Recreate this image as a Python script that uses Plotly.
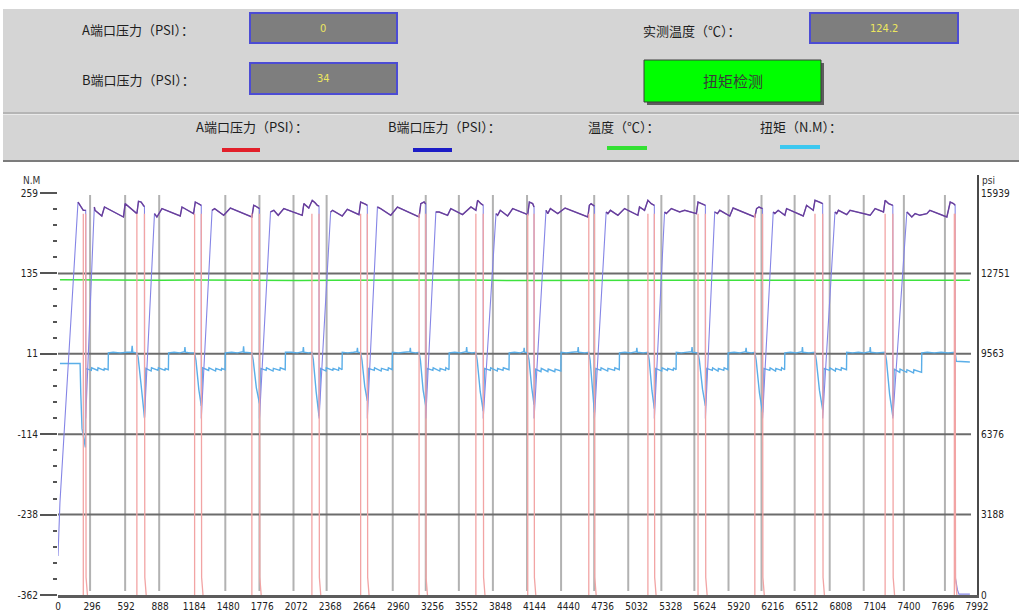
import plotly.graph_objects as go

# ---------------------------------------------------------------- data ----
x_end = 7992
x_tick_step = 296
nm_ticktext = ['-362', '-238', '-114', '11', '135', '259']
psi_ticktext = ['0', '3188', '6376', '9563', '12751', '15939']
nm_min, nm_max = -362.0, 259.0
psi_max = 15939.0

# B port pressure (psi) vertices
b_time = [0, 17, 174, 200, 220, 241, 241,
          308, 316, 322, 381, 404, 569, 584, 686, 700, 723, 743, 752, 752,
          839, 860, 904, 1063, 1078, 1179, 1194, 1223, 1246, 1246,
          1340, 1362, 1441, 1499, 1686, 1702, 1717, 1752, 1752,
          1848, 1877, 1915, 1964, 2124, 2138, 2181, 2211, 2234, 2255, 2270, 2270,
          2371, 2388, 2472, 2516, 2617, 2632, 2676, 2690, 2690,
          2778, 2806, 2894, 2952, 3140, 3155, 3184, 3198, 3198,
          3286, 3315, 3388, 3416, 3518, 3591, 3634, 3649, 3678, 3698, 3698,
          3809, 3823, 3846, 3910, 3954, 4085, 4099, 4128, 4140, 4140,
          4244, 4259, 4282, 4346, 4410, 4608, 4621, 4636, 4665, 4665,
          4767, 4782, 4804, 4869, 4927, 5043, 5057, 5101, 5130, 5159, 5186, 5186,
          5275, 5290, 5334, 5406, 5450, 5552, 5566, 5595, 5630, 5630,
          5711, 5735, 5755, 5842, 5871, 6060, 6075, 6096, 6127, 6127,
          6220, 6234, 6263, 6321, 6336, 6481, 6510, 6568, 6583, 6626, 6650, 6650,
          6757, 6772, 6787, 6859, 6888, 7063, 7106, 7179, 7193, 7223, 7260, 7260,
          7382, 7399, 7425, 7454, 7495, 7556, 7582, 7730, 7759, 7788, 7802,
          7805, 7822, 7835, 7930]
b_psi = [1550, 3670, 15580, 15420, 15250, 15250, 7000,
         14539, 15384, 15253, 15027, 15384, 14987, 15518, 15122, 15610, 15582, 15423, 15400, 7000,
         15122, 14987, 15320, 15027, 15384, 15122, 15582, 15518, 15451, 7000,
         15253, 15320, 15055, 15344, 14987, 15451, 15423, 15320, 7000,
         15186, 15253, 15055, 15320, 15055, 15518, 15344, 15650, 15558, 15451, 15420, 7000,
         15186, 15253, 15027, 15293, 15082, 15582, 15490, 15450, 7000,
         15384, 15320, 15055, 15384, 14987, 15518, 15582, 15500, 7000,
         15186, 15186, 15055, 15320, 15082, 15384, 15253, 15650, 15518, 15451, 7000,
         15122, 15055, 15253, 15027, 15320, 15082, 15582, 15518, 15384, 7000,
         15253, 15122, 15320, 15122, 15344, 14987, 15451, 15518, 15420, 7000,
         15186, 15122, 15253, 15055, 15320, 15055, 15384, 15253, 15650, 15518, 15451, 7000,
         15186, 15122, 15320, 15186, 15253, 15122, 15582, 15518, 15451, 7000,
         15186, 15122, 15253, 15027, 15344, 14987, 15320, 15384, 15320, 7000,
         15186, 15122, 15253, 15055, 15320, 15027, 15451, 15253, 15650, 15582, 15518, 7000,
         15186, 15122, 15253, 15082, 15253, 15055, 15320, 15186, 15650, 15518, 15451, 7000,
         15186, 15122, 14987, 15122, 15055, 15122, 15253, 14987, 15582, 15518, 15451,
         660, 200, 34, 34]

# A port pressure: short full-scale pulses (rise time, fall time)
a_rise_time = [220, 686, 1188, 1686, 2208, 2632, 3140, 3634, 4085, 4616,
               5130, 5566, 6060, 6583, 7193, 7795]
a_fall_time = [241, 752, 1246, 1752, 2270, 2690, 3198, 3698, 4140, 4665,
               5186, 5630, 6127, 6650, 7260, 7802]
a_pulse_psi = 15120
a_tail_psi = [700, 0]
a_tail_dt = [3, 15]

# Torque (N.M)
torque_time = [17, 192, 198, 209, 238, 241,
               290, 293, 345, 348, 400, 403, 436, 438, 480, 540, 600, 640, 645, 650, 686, 697, 723, 752,
               764, 810, 813, 870, 873, 930, 933, 960, 962, 1010, 1060, 1100, 1104, 1108, 1150, 1188, 1200, 1225, 1246,
               1258, 1310, 1313, 1370, 1373, 1420, 1423, 1453, 1455, 1510, 1560, 1610, 1614, 1618, 1660, 1686, 1698, 1725, 1752,
               1764, 1810, 1813, 1870, 1873, 1930, 1933, 1976, 1978, 2030, 2080, 2130, 2134, 2138, 2180, 2208, 2220, 2245, 2270,
               2282, 2330, 2333, 2390, 2393, 2440, 2443, 2470, 2472, 2520, 2570, 2600, 2604, 2608, 2632, 2644, 2668, 2690,
               2702, 2750, 2753, 2810, 2813, 2870, 2873, 2906, 2908, 2960, 3010, 3060, 3064, 3068, 3110, 3140, 3152, 3175, 3198,
               3210, 3260, 3263, 3320, 3323, 3370, 3373, 3400, 3402, 3450, 3500, 3550, 3554, 3558, 3600, 3634, 3646, 3672, 3698,
               3710, 3760, 3763, 3820, 3823, 3870, 3873, 3922, 3924, 3970, 4020, 4050, 4054, 4058, 4085, 4097, 4120, 4140,
               4152, 4200, 4203, 4260, 4263, 4320, 4323, 4373, 4375, 4420, 4470, 4520, 4524, 4528, 4580, 4616, 4628, 4650, 4665,
               4677, 4720, 4723, 4780, 4783, 4840, 4843, 4881, 4883, 4930, 4980, 5030, 5034, 5038, 5090, 5130, 5142, 5165, 5186,
               5198, 5250, 5253, 5300, 5303, 5350, 5353, 5375, 5377, 5420, 5470, 5510, 5514, 5518, 5566, 5578, 5605, 5630,
               5642, 5690, 5693, 5740, 5743, 5790, 5793, 5826, 5828, 5880, 5930, 5980, 5984, 5988, 6030, 6060, 6072, 6100, 6127,
               6139, 6190, 6193, 6240, 6243, 6290, 6293, 6319, 6321, 6370, 6420, 6470, 6474, 6478, 6530, 6583, 6595, 6622, 6650,
               6662, 6710, 6713, 6760, 6763, 6810, 6813, 6857, 6859, 6910, 6960, 7010, 7060, 7064, 7068, 7120, 7193, 7205, 7232, 7260,
               7272, 7320, 7323, 7380, 7383, 7440, 7443, 7510, 7512, 7560, 7620, 7680, 7740, 7802, 7812, 7930]
torque_nm = [-4.5, -4.5, -50, -105, -134, -12,
             -15, -11, -15, -11, -15, -12, -14, 12, 13, 12, 13, 13, 23, 13, 12, 5, -38, -88,
             -12, -16, -11, -15, -11, -15, -12, -14, 12, 13, 12, 14, 21, 13, 12, 12, 0, -45, -70,
             -11, -15, -11, -16, -12, -15, -12, -14, 12, 13, 12, 14, 22, 13, 12, 12, 0, -42, -66,
             -12, -15, -11, -16, -12, -15, -11, -14, 13, 13, 12, 14, 21, 13, 12, 13, 2, -48, -86,
             -12, -16, -11, -15, -12, -15, -11, -14, 13, 12, 13, 14, 20, 13, 12, 0, -40, -62,
             -12, -15, -11, -16, -12, -15, -11, -14, 13, 12, 13, 14, 20, 13, 12, 13, 0, -45, -70,
             -12, -15, -11, -16, -12, -15, -11, -14, 12, 13, 12, 14, 21, 13, 12, 13, 0, -48, -78,
             -12, -15, -11, -16, -12, -15, -11, -14, 12, 13, 12, 14, 20, 13, 12, 0, -42, -68,
             -13, -17, -12, -17, -13, -17, -13, -16, 13, 12, 13, 14, 21, 13, 12, 13, 0, -50, -80,
             -12, -15, -11, -16, -12, -15, -11, -14, 12, 13, 12, 14, 20, 13, 12, 13, 0, -46, -74,
             -12, -16, -11, -15, -12, -15, -11, -14, 13, 12, 13, 14, 21, 13, 12, 0, -44, -70,
             -12, -15, -11, -16, -12, -15, -11, -14, 12, 13, 12, 14, 20, 13, 12, 13, 0, -50, -80,
             -12, -15, -11, -16, -12, -15, -11, -14, 12, 13, 12, 14, 21, 13, 12, 13, 0, -46, -76,
             -12, -15, -11, -16, -12, -15, -11, -14, 13, 12, 13, 12, 14, 21, 13, 12, 13, 0, -52, -86,
             -13, -18, -13, -18, -14, -19, -14, -18, 12, 13, 12, 13, 12, 13, -1, -2]

# Temperature (deg C)
temp_time = [17, 300, 600, 900, 1200, 1500, 1800, 2100, 2400, 2700, 3000, 3300, 3600, 3900,
             4200, 4500, 4800, 5100, 5400, 5700, 6000, 6300, 6600, 6900, 7200, 7500, 7800, 7930]
temp_c = [124.8, 124.3, 124.6, 124.1, 124.7, 124.2, 124.5, 124.0, 124.4, 124.6, 124.1, 124.3,
          124.5, 124.0, 124.2, 124.6, 124.3, 124.1, 124.4, 124.2, 124.5, 124.0, 124.3, 124.1,
          123.8, 124.0, 123.6, 124.2]

# Cycle event markers (time)
marker_time = [279, 584, 880, 1455, 1752, 2048, 2336, 2911, 3198, 3486, 3782, 4079,
               4375, 4663, 4959, 5247, 5534, 5831, 6118, 6406, 6711, 7007, 7356, 7713]

# Header / legend texts
label_a = 'A端口压力（PSI）：'
label_b = 'B端口压力（PSI）：'
label_t = '实测温度（℃）：'
button_text = '扭矩检测'
legend_items = ['A端口压力（PSI）：', 'B端口压力（PSI）：', '温度（℃）：', '扭矩（N.M）：']
legend_colors = ['#e2202a', '#1c1cc6', '#33e033', '#3cc8f0']

# -------------------------------------------------------------- layout ----
W, H = 1019, 616
PL, PR, PT, PB = 58, 977, 193, 595

def fx(px):
    return (px - PL) / (PR - PL)

def fy(py):
    return (PB - py) / (PB - PT)

CJK = 'Noto Sans CJK SC, Noto Sans, sans-serif'
NUM = 'Liberation Sans Narrow, DejaVu Sans Condensed, Liberation Sans, Arial, sans-serif'

nm_step = (nm_max - nm_min) / 5
nm_tickvals = [nm_min + i * nm_step for i in range(6)]
psi_tickvals = [i * psi_max / 5 for i in range(6)]

# A port series: each pulse drawn as its rising edge and its falling edge
a_time, a_psi = [], []
for r, f in zip(a_rise_time, a_fall_time):
    a_time += [r, r, None, f] + [f + d for d in a_tail_dt] + [None]
    a_psi += [0, a_pulse_psi, None, a_pulse_psi] + a_tail_psi + [None]
a_now = a_tail_psi[-1]

hold_psi = [v if v >= 14900 else None for v in b_psi]

fig = go.Figure()
fig.add_trace(go.Scatter(x=temp_time, y=temp_c, mode='lines', yaxis='y',
                         line=dict(color='#3ee23e', width=1.5), name='温度'))
fig.add_trace(go.Scatter(x=torque_time, y=torque_nm, mode='lines', yaxis='y',
                         line=dict(color='#5aaee8', width=1.4), name='扭矩'))
fig.add_trace(go.Scatter(x=b_time, y=b_psi, mode='lines', yaxis='y2',
                         line=dict(color='#8585e6', width=1.1), name='B端口压力'))
fig.add_trace(go.Scatter(x=b_time, y=hold_psi, mode='lines', yaxis='y2', connectgaps=False,
                         line=dict(color='#6a3f9a', width=1.4), name='B hold'))
fig.add_trace(go.Scatter(x=a_time, y=a_psi, mode='lines', yaxis='y2', connectgaps=False,
                         line=dict(color='#f2a4a4', width=1.3), name='A端口压力'))

shapes = []
# header panels
shapes.append(dict(type='rect', xref='paper', yref='paper', x0=fx(3), x1=fx(1019), y0=fy(112), y1=fy(9),
                   fillcolor='#d5d5d5', line=dict(width=0), layer='below'))
shapes.append(dict(type='line', xref='paper', yref='paper', x0=fx(3), x1=fx(1019), y0=fy(113), y1=fy(113),
                   line=dict(color='#9c9c9c', width=1.5)))
shapes.append(dict(type='rect', xref='paper', yref='paper', x0=fx(3), x1=fx(1019), y0=fy(160), y1=fy(114.5),
                   fillcolor='#d5d5d5', line=dict(width=0), layer='below'))
shapes.append(dict(type='line', xref='paper', yref='paper', x0=fx(3), x1=fx(1019), y0=fy(161), y1=fy(161),
                   line=dict(color='#7c7c7c', width=2)))
# value boxes
for (x0, y0, x1, y1) in [(250, 13, 397, 43), (250, 63, 397, 94), (810, 13, 958, 43)]:
    shapes.append(dict(type='rect', xref='paper', yref='paper', x0=fx(x0), x1=fx(x1), y0=fy(y1), y1=fy(y0),
                       fillcolor='#7e7e7e', line=dict(color='#4c4cd4', width=2)))
# button
shapes.append(dict(type='rect', xref='paper', yref='paper', x0=fx(647), x1=fx(824), y0=fy(105), y1=fy(63),
                   fillcolor='#5c5c5c', line=dict(width=0)))
shapes.append(dict(type='rect', xref='paper', yref='paper', x0=fx(644), x1=fx(821), y0=fy(102), y1=fy(60),
                   fillcolor='#00ff00', line=dict(color='#3c3c3c', width=1)))
# legend swatches
for (x0, x1, yy), col in zip([(222, 260, 150), (413, 452, 150), (607, 647, 148), (780, 820, 147)], legend_colors):
    shapes.append(dict(type='line', xref='paper', yref='paper', x0=fx(x0), x1=fx(x1), y0=fy(yy), y1=fy(yy),
                       line=dict(color=col, width=4)))
# event markers and horizontal grid lines
for t in marker_time:
    shapes.append(dict(type='line', xref='x', yref='paper', x0=t, x1=t, y0=0.01, y1=0.995,
                       line=dict(color='#b2b2b2', width=2), layer='below'))
for v in nm_tickvals[1:-1]:
    shapes.append(dict(type='line', xref='paper', yref='y', x0=0, x1=fx(971), y0=v, y1=v,
                       line=dict(color='#6c6c6c', width=2), layer='below'))
# right axis extension
shapes.append(dict(type='line', xref='paper', yref='paper', x0=fx(978), x1=fx(978), y0=fy(196), y1=fy(175),
                   line=dict(color='#4a4a4a', width=2)))

ann = []
def text(s, px, py, size=12, color='#1e1e1e', anchor='left', family=CJK):
    ann.append(dict(text=s, xref='paper', yref='paper', x=fx(px), y=fy(py), xanchor=anchor, yanchor='middle',
                    showarrow=False, font=dict(size=size, color=color, family=family)))

text(label_a, 80, 30, size=13)
text(label_b, 80, 80, size=13)
text(label_t, 641, 31, size=13)
text(str(a_now), 323, 28, size=11, color='#ece65e', anchor='center', family=NUM)
text(str(b_psi[-1]), 323, 78, size=11, color='#ece65e', anchor='center', family=NUM)
text(f'{temp_c[-1]:.1f}', 884, 28, size=11, color='#ece65e', anchor='center', family=NUM)
text(button_text, 733, 81, size=15, color='#3a3a3a', anchor='center')
for s, px in zip(legend_items, [194, 386, 586, 758]):
    text(s, px, 127, size=13)
text('N.M', 31, 180, size=10, color='#333333', anchor='center', family=NUM)
text('psi', 988, 180, size=10, color='#333333', anchor='center', family=NUM)

tick_font = dict(family=NUM, size=10, color='#222222')
fig.update_layout(
    width=W, height=H, autosize=False,
    margin=dict(l=PL, r=W - PR, t=PT, b=H - PB, pad=0),
    paper_bgcolor='white', plot_bgcolor='white',
    template='none', showlegend=False,
    shapes=shapes, annotations=ann,
    xaxis=dict(range=[0, x_end], tickmode='array',
               tickvals=list(range(0, x_end + 1, x_tick_step)),
               ticktext=[str(v) for v in range(0, x_end + 1, x_tick_step)],
               showgrid=False, zeroline=False, showline=True, linecolor='#5c5c5c', linewidth=3,
               ticks='', tickfont=tick_font),
    yaxis=dict(range=[nm_min, nm_max], tickmode='array', tickvals=nm_tickvals, ticktext=nm_ticktext,
               showgrid=False, zeroline=False, showline=False,
               ticks='outside', ticklen=17, tickwidth=2, tickcolor='#555555',
               minor=dict(ticks='outside', ticklen=4, tickwidth=2, tickcolor='#555555',
                          tickmode='linear', tick0=nm_min, dtick=nm_step / 5, showgrid=False),
               tickfont=tick_font),
    yaxis2=dict(range=[0, psi_max], overlaying='y', side='right', anchor='x',
                tickmode='array', tickvals=psi_tickvals, ticktext=psi_ticktext,
                showgrid=False, zeroline=False, showline=True, linecolor='#4a4a4a', linewidth=2,
                ticks='', tickfont=tick_font),
)

fig.write_html('out.html')
